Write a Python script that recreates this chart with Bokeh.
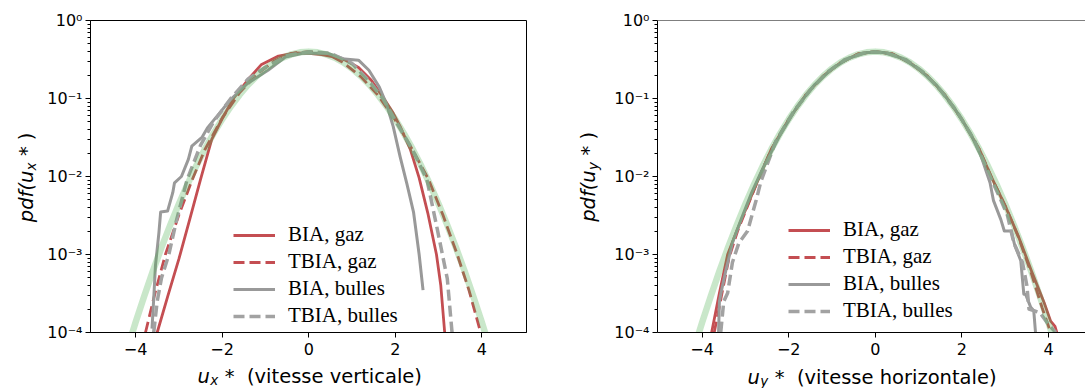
import numpy as np
from bokeh.plotting import figure
from bokeh.models import (Range1d, FixedTicker, CustomJSTickFormatter, Legend,
                          LegendItem, Span)
from bokeh.core.properties import value
from bokeh.layouts import row
from bokeh.embed import file_html
from bokeh.resources import INLINE

# ---------------- data ----------------
x_ticks = [-4, -2, 0, 2, 4]
x_tick_labels = ["\u22124", "\u22122", "0", "2", "4"]
y_ticks = [1e-4, 1e-3, 1e-2, 1e-1, 1.0]
y_tick_labels = ["10\u207b\u2074", "10\u207b\u00b3", "10\u207b\u00b2", "10\u207b\u00b9", "10\u2070"]
legend_labels = ["BIA, gaz", "TBIA, gaz", "BIA, bulles", "TBIA, bulles"]

# reference Gaussian (light green), same in both panels
gauss_x = [-4.2, -4.0, -3.8, -3.6, -3.4, -3.2, -3.0, -2.8, -2.6, -2.4, -2.2, -2.0, -1.8,
           -1.6, -1.4, -1.2, -1.0, -0.8, -0.6, -0.4, -0.2, 0.0, 0.2, 0.4, 0.6, 0.8, 1.0,
           1.2, 1.4, 1.6, 1.8, 2.0, 2.2, 2.4, 2.6, 2.8, 3.0, 3.2, 3.4, 3.6, 3.8, 4.0, 4.2]
gauss_y = [5.9e-5, 1.34e-4, 2.92e-4, 6.12e-4, 1.23e-3, 2.38e-3, 4.43e-3, 7.92e-3, 1.36e-2,
           2.24e-2, 3.55e-2, 5.40e-2, 7.90e-2, 0.111, 0.150, 0.194, 0.242, 0.290, 0.333,
           0.368, 0.391, 0.399, 0.391, 0.368, 0.333, 0.290, 0.242, 0.194, 0.150, 0.111,
           7.90e-2, 5.40e-2, 3.55e-2, 2.24e-2, 1.36e-2, 7.92e-3, 4.43e-3, 2.38e-3, 1.23e-3,
           6.12e-4, 2.92e-4, 1.34e-4, 5.9e-5]

# left panel: u_x* (vitesse verticale)
ux_bia_gaz_x = [-3.50, -3.25, -3.00, -2.75, -2.50, -2.24, -2.00, -1.74, -1.40, -1.10, -0.70,
                -0.30, 0.00, 0.30, 0.60, 0.85, 1.15, 1.45, 1.71, 1.95, 2.11, 2.35, 2.55,
                2.75, 2.95, 3.05, 3.14]
ux_bia_gaz_y = [1.0e-4, 3.0e-4, 8.7e-4, 2.8e-3, 9.1e-3, 3.0e-2, 5.5e-2, 0.100, 0.175, 0.270,
                0.350, 0.385, 0.380, 0.365, 0.340, 0.310, 0.250, 0.170, 0.105, 0.065, 0.044,
                0.022, 0.0096, 0.0034, 1.0e-3, 4.0e-4, 1.0e-4]
ux_tbia_gaz_x = [-3.77, -3.55, -3.31, -3.00, -2.69, -2.40, -2.00, -1.60, -1.20, -0.80, -0.40,
                 0.00, 0.40, 0.80, 1.20, 1.60, 2.00, 2.40, 2.77, 3.10, 3.43, 3.70, 3.97]
ux_tbia_gaz_y = [1.0e-4, 3.2e-4, 1.0e-3, 3.2e-3, 9.1e-3, 0.022, 0.056, 0.118, 0.204, 0.302,
                 0.380, 0.398, 0.380, 0.288, 0.191, 0.110, 0.0525, 0.0219, 0.0091, 0.0032,
                 1.0e-3, 3.5e-4, 1.0e-4]
ux_bia_bul_x = [-3.62, -3.58, -3.54, -3.46, -3.42, -3.26, -3.14, -3.10, -2.94, -2.78, -2.70,
                -2.46, -2.34, -2.06, -1.82, -1.42, -0.94, -0.54, -0.14, 0.43, 0.83, 1.15,
                1.39, 1.63, 1.79, 1.95, 2.11, 2.27, 2.42, 2.55, 2.64]
ux_bia_bul_y = [1.12e-4, 2.7e-4, 7.2e-4, 1.9e-3, 3.5e-3, 3.6e-3, 6.2e-3, 8.3e-3, 0.010,
                0.0166, 0.0245, 0.032, 0.042, 0.065, 0.095, 0.155, 0.23, 0.34, 0.38, 0.38,
                0.32, 0.31, 0.23, 0.14, 0.087, 0.044, 0.018, 7.9e-3, 3.5e-3, 1.0e-3, 3.5e-4]
ux_tbia_bul_x = [-3.58, -3.50, -3.40, -3.23, -3.05, -2.81, -2.50, -2.20, -1.80, -1.40, -1.00,
                 -0.50, 0.00, 0.50, 1.00, 1.40, 1.71, 2.00, 2.40, 2.73, 2.97, 3.20, 3.31]
ux_tbia_bul_y = [1.0e-4, 2.5e-4, 5.0e-4, 1.0e-3, 2.8e-3, 9.1e-3, 0.025, 0.050, 0.100, 0.178,
                 0.251, 0.355, 0.398, 0.380, 0.282, 0.166, 0.100, 0.0525, 0.0219, 9.1e-3,
                 2.1e-3, 4.9e-4, 1.0e-4]

# right panel: u_y* (vitesse horizontale)
uy_bia_gaz_x = [-3.78, -3.60, -3.41, -3.20, -3.00, -2.72, -2.40, -2.00, -1.60, -1.20, -0.80,
                -0.40, 0.00, 0.40, 0.80, 1.20, 1.60, 2.00, 2.40, 2.71, 3.00, 3.30, 3.60,
                3.90, 4.05, 4.15, 4.22]
uy_bia_gaz_y = [1.0e-4, 3.2e-4, 1.0e-3, 2.0e-3, 3.7e-3, 8.7e-3, 0.0224, 0.0537, 0.112, 0.195,
                0.288, 0.372, 0.398, 0.372, 0.288, 0.195, 0.112, 0.0537, 0.0224, 9.1e-3,
                4.2e-3, 1.74e-3, 6.3e-4, 2.4e-4, 1.4e-4, 1.2e-4, 8.9e-5]
uy_tbia_gaz_x = [-3.72, -3.55, -3.38, -3.18, -2.98, -2.72, -2.40, -2.00, -1.60, -1.20, -0.80,
                 -0.40, 0.00, 0.40, 0.80, 1.20, 1.60, 2.00, 2.40, 2.70, 3.00, 3.30, 3.60,
                 3.85, 4.05]
uy_tbia_gaz_y = [1.0e-4, 3.0e-4, 9.0e-4, 2.0e-3, 3.8e-3, 8.7e-3, 0.0224, 0.0537, 0.112,
                 0.195, 0.288, 0.372, 0.398, 0.372, 0.288, 0.195, 0.112, 0.0537, 0.0224,
                 9.3e-3, 4.2e-3, 1.7e-3, 5.8e-4, 2.1e-4, 1.0e-4]
uy_bia_bul_x = [-3.62, -3.60, -3.55, -3.45, -3.30, -3.10, -2.85, -2.60, -2.20, -1.80, -1.40,
                -1.00, -0.60, -0.20, 0.20, 0.60, 1.00, 1.40, 1.80, 2.20, 2.45, 2.65, 2.73,
                2.90, 2.98, 3.14, 3.22, 3.36, 3.43, 3.47, 3.59, 3.66, 3.70]
uy_bia_bul_y = [1.0e-4, 2.5e-4, 3.5e-4, 6.3e-4, 1.41e-3, 2.8e-3, 6.3e-3, 0.0126, 0.0339,
                0.0794, 0.151, 0.240, 0.331, 0.389, 0.389, 0.331, 0.240, 0.151, 0.0794,
                0.0355, 0.0178, 8.3e-3, 4.9e-3, 2.8e-3, 2.0e-3, 2.0e-3, 1.32e-3, 8.3e-4,
                3.1e-4, 3.1e-4, 2.1e-4, 1.9e-4, 1.0e-4]
uy_tbia_bul_x = [-3.57, -3.50, -3.41, -3.30, -3.15, -2.95, -2.75, -2.64, -2.30, -1.90, -1.50,
                 -1.10, -0.70, -0.30, 0.00, 0.30, 0.70, 1.10, 1.50, 1.90, 2.30, 2.70, 2.90,
                 3.05, 3.20, 3.40, 3.50, 3.55, 3.80, 4.00, 4.17]
uy_tbia_bul_y = [1.0e-4, 2.5e-4, 3.2e-4, 7.9e-4, 1.41e-3, 2.0e-3, 5.0e-3, 8.7e-3, 0.0282,
                 0.0661, 0.129, 0.219, 0.316, 0.380, 0.398, 0.380, 0.316, 0.219, 0.129,
                 0.0661, 0.0282, 8.7e-3, 5.0e-3, 3.2e-3, 1.41e-3, 7.9e-4, 4.0e-4, 2.0e-4,
                 1.8e-4, 1.26e-4, 1.0e-4]

# ---------------- styling ----------------
RED = "#c44e52"
GRAY = "#999999"
GRAY2 = "#a2a2a2"
GREEN = "#4caf50"
SANS = "DejaVu Sans"
SERIF = "Liberation Serif"
H = 388
NB = "\u00a0"

y_minor = [k * 10.0 ** e for e in range(-4, 0) for k in range(2, 10)]

xfmt = CustomJSTickFormatter(args=dict(tkv=x_ticks, tkl=x_tick_labels), code="""
const i = tkv.findIndex(t => Math.abs(t - tick) < 1e-9);
return i >= 0 ? tkl[i] : "";
""")
yfmt = CustomJSTickFormatter(args=dict(tkv=y_ticks, tkl=y_tick_labels), code="""
const i = tkv.findIndex(t => Math.abs(Math.log10(t) - Math.log10(tick)) < 1e-6);
return i >= 0 ? tkl[i] : "";
""")


def make_fig(width, mbl, mbr, mbt, mbb, x0, x1, outline):
    p = figure(width=width, height=H, y_axis_type="log",
               x_range=Range1d(x0, x1), y_range=Range1d(1e-4, 1.0),
               output_backend="svg", toolbar_location=None,
               min_border_left=mbl, min_border_right=mbr,
               min_border_top=mbt, min_border_bottom=mbb)
    p.grid.visible = False
    p.background_fill_color = "white"
    p.border_fill_color = "white"
    if outline:
        p.outline_line_color = "black"
        p.outline_line_alpha = 1.0
        p.outline_line_width = 1
    else:
        p.outline_line_color = None
        p.add_layout(Span(location=1.0, dimension="width", line_color="black", line_width=1))
    for ax in (p.xaxis[0], p.yaxis[0]):
        ax.axis_line_color = "black"
        ax.major_tick_line_color = "black"
        ax.minor_tick_line_color = "black"
        ax.major_tick_out = 5
        ax.major_tick_in = 0
        ax.minor_tick_out = 3
        ax.minor_tick_in = 0
        ax.major_label_text_font = SANS
        ax.major_label_text_font_size = "16px"
        ax.major_label_text_color = "black"
    p.xaxis.ticker = FixedTicker(ticks=x_ticks)
    p.xaxis.formatter = xfmt
    p.xaxis.minor_tick_line_color = None
    p.xaxis.major_label_standoff = 5
    p.yaxis.ticker = FixedTicker(ticks=y_ticks, minor_ticks=y_minor)
    p.yaxis.formatter = yfmt
    p.yaxis.major_label_standoff = 3
    return p


def draw(p, series, legend_loc):
    styles = [
        dict(line_color=RED, line_width=2.8, line_dash="solid"),
        dict(line_color=RED, line_width=2.8, line_dash="11 5"),
        dict(line_color=GRAY, line_width=3.0, line_dash="solid"),
        dict(line_color=GRAY2, line_width=3.5, line_dash="11 5"),
    ]
    rends = []
    for (xs, ys), st in zip(series, styles):
        rends.append(p.line(xs, ys, line_join="round", **st))
    p.line(gauss_x, gauss_y, line_color=GREEN, line_alpha=0.3, line_width=6.5,
           line_join="round")
    items = [LegendItem(label=lab, renderers=[r]) for lab, r in zip(legend_labels, rends)]
    leg = Legend(items=items, location=legend_loc,
                 label_text_font=SERIF, label_text_font_size="21px",
                 label_text_color="black",
                 glyph_width=42, glyph_height=24, label_height=24, spacing=2,
                 label_standoff=13, padding=0, margin=0,
                 border_line_color=None, background_fill_alpha=0.0)
    p.add_layout(leg)


# axis labels with subscripts: text glyphs drawn at "guide" level, outside the frame
def add_glyph_pieces(p, pieces, px, py, rotated, x0, sx, ybot, sy):
    # px, py: offsets (pixels) from the frame's left / bottom edge
    for text, size, style, adv, low in pieces:
        if rotated:
            xd = x0 + (px + low) / sx
            yd = 10 ** (ybot + py / sy)
            ang = np.pi / 2
            py += adv
        else:
            xd = x0 + px / sx
            yd = 10 ** (ybot + (py - low) / sy)
            ang = 0.0
            px += adv
        p.text(x=[xd], y=[yd], text=[text], angle=ang, level="guide",
               text_font=value(SANS), text_font_size=value(f"{size}px"),
               text_font_style=value(style), text_color="black",
               text_align=value("left"), text_baseline=value("alphabetic"))


FS = 19.5
SUB = 13.5

# ---------------- left panel ----------------
X0L = -5.04
p1 = make_fig(568, 90, 42, 20, H - 20 - 314, X0L, X0L + 436 / 43.3, True)
draw(p1, [(ux_bia_gaz_x, ux_bia_gaz_y), (ux_tbia_gaz_x, ux_tbia_gaz_y),
          (ux_bia_bul_x, ux_bia_bul_y), (ux_tbia_bul_x, ux_tbia_bul_y)], (143, 4))
add_glyph_pieces(p1, [("u", FS, "italic", 12.8, 0), ("x", SUB, "italic", 8.3, 4),
                      (f"{NB}*{NB}{NB}(vitesse verticale)", FS, "normal", 0, 0)],
                 107, -44, False, X0L, 43.3, -4.0, 78.5)
add_glyph_pieces(p1, [("pdf(u", FS, "italic", 52.0, 0), ("x", SUB, "italic", 8.3, 4),
                      (f"{NB}*{NB})", FS, "normal", 0, 0)],
                 -64, 111, True, X0L, 43.3, -4.0, 78.5)

# ---------------- right panel ----------------
W2 = 517
X0R = -5.03
p2 = make_fig(W2, 89, 0, 19, H - 19 - 313, X0R, X0R + (W2 - 89) / 43.3, False)
draw(p2, [(uy_bia_gaz_x, uy_bia_gaz_y), (uy_tbia_gaz_x, uy_tbia_gaz_y),
          (uy_bia_bul_x, uy_bia_bul_y), (uy_tbia_bul_x, uy_tbia_bul_y)], (131, 9))
add_glyph_pieces(p2, [("u", FS, "italic", 12.8, 0), ("y", SUB, "italic", 8.3, 4),
                      (f"{NB}*{NB}{NB}(vitesse horizontale)", FS, "normal", 0, 0)],
                 90, -45, False, X0R, 43.3, -4.0, 78.25)
add_glyph_pieces(p2, [("pdf(u", FS, "italic", 52.0, 0), ("y", SUB, "italic", 8.3, 4),
                      (f"{NB}*{NB})", FS, "normal", 0, 0)],
                 -69, 111, True, X0R, 43.3, -4.0, 78.25)

layout = row(p1, p2, spacing=0)
open("out.html", "w").write(file_html(layout, INLINE))
